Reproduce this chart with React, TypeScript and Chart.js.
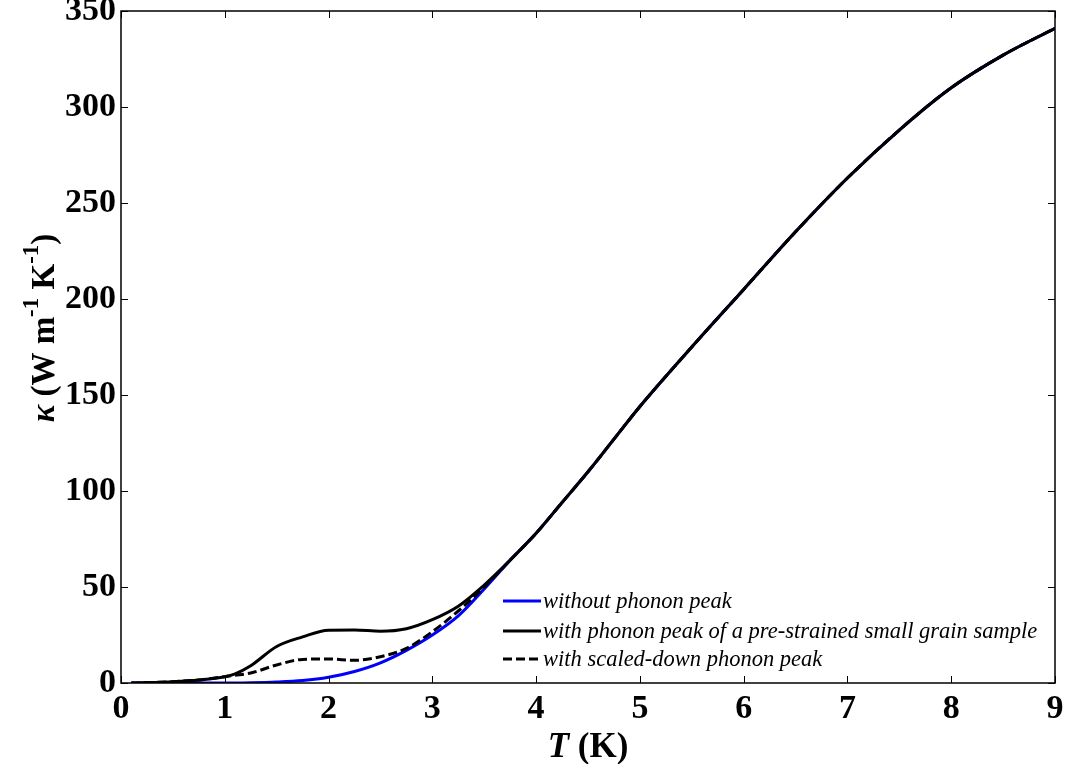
import React, { useEffect, useRef } from 'react';
import { Chart, registerables } from 'chart.js';

Chart.register(...registerables);

// Temperature grid (K)
const temperatureK = [0.1, 0.25, 0.5, 0.75, 1, 1.1, 1.25, 1.5, 1.75, 2, 2.25, 2.5, 2.75, 3, 3.25, 3.5, 3.75, 4, 4.25, 4.5, 4.75, 5, 5.5, 6, 6.5, 7, 7.5, 8, 8.5, 9];
// kappa without phonon peak
const kappaWithout = [0, 0, 0, 0, 0, 0, 0.1, 0.5, 1.3, 3, 6, 10.5, 17, 25, 35, 49, 64, 78, 94, 110, 127, 144, 175, 205, 235, 263, 288, 310, 327, 341];
// kappa with phonon peak of a pre-strained small grain sample
const kappaPrestrained = [0, 0.2, 0.7, 1.6, 3.3, 4.8, 9, 19, 24, 27.5, 27.6, 27, 28.3, 33, 40, 51, 64, 78, 94, 110, 127, 144, 175, 205, 235, 263, 288, 310, 327, 341];
// kappa with scaled-down phonon peak
const kappaScaled = [0, 0.2, 0.7, 1.6, 3.3, 4, 5.2, 9.4, 12.3, 12.5, 11.8, 13.7, 18, 26.7, 37.5, 50, 64, 78, 94, 110, 127, 144, 175, 205, 235, 263, 288, 310, 327, 341];

const xTickValues = [0, 1, 2, 3, 4, 5, 6, 7, 8, 9];
const yTickValues = [0, 50, 100, 150, 200, 250, 300, 350];

const legendLabels = [
  'without phonon peak',
  'with phonon peak of a pre-strained small grain sample',
  'with scaled-down phonon peak',
];

const SERIF = "'Liberation Serif', 'Times New Roman', 'DejaVu Serif', serif";

const toPoints = (ys: number[]) => temperatureK.map((t, i) => ({ x: t, y: ys[i] }));

const decorPlugin = {
  id: 'decor',
  afterDraw(chart: any) {
    const ctx = chart.ctx as CanvasRenderingContext2D;
    const { left, right, top, bottom } = chart.chartArea;
    const xs = chart.scales.x;
    const ys = chart.scales.y;
    ctx.save();
    // frame
    ctx.strokeStyle = '#000';
    ctx.lineWidth = 1.5;
    ctx.strokeRect(left, top, right - left, bottom - top);
    // inward ticks
    ctx.lineWidth = 1;
    const tl = 7;
    xTickValues.forEach((v) => {
      const px = Math.round(xs.getPixelForValue(v)) + 0.5;
      ctx.beginPath();
      ctx.moveTo(px, bottom);
      ctx.lineTo(px, bottom - tl);
      ctx.moveTo(px, top);
      ctx.lineTo(px, top + tl);
      ctx.stroke();
    });
    yTickValues.forEach((v) => {
      const py = Math.round(ys.getPixelForValue(v)) + 0.5;
      ctx.beginPath();
      ctx.moveTo(left, py);
      ctx.lineTo(left + tl, py);
      ctx.moveTo(right, py);
      ctx.lineTo(right - tl, py);
      ctx.stroke();
    });

    // legend
    const legX = 503;
    const legYs = [601, 631, 659];
    const styles = [
      { color: '#0000ff', dash: [] as number[] },
      { color: '#000000', dash: [] as number[] },
      { color: '#000000', dash: [9, 4] },
    ];
    ctx.font = `italic 22.5px ${SERIF}`;
    ctx.textBaseline = 'middle';
    ctx.textAlign = 'left';
    legendLabels.forEach((lab, i) => {
      ctx.strokeStyle = styles[i].color;
      ctx.lineWidth = 3;
      ctx.setLineDash(styles[i].dash);
      ctx.beginPath();
      ctx.moveTo(legX, legYs[i]);
      ctx.lineTo(legX + 38, legYs[i]);
      ctx.stroke();
      ctx.setLineDash([]);
      ctx.fillStyle = '#000';
      ctx.fillText(lab, legX + 40, legYs[i] + 1);
    });

    // x axis title: T (K)
    ctx.fillStyle = '#000';
    ctx.textBaseline = 'alphabetic';
    const xt1 = 'T';
    const xt2 = ' (K)';
    ctx.font = `italic bold 35px ${SERIF}`;
    const w1 = ctx.measureText(xt1).width;
    ctx.font = `bold 35px ${SERIF}`;
    const w2 = ctx.measureText(xt2).width;
    const cx = (left + right) / 2;
    const sx = cx - (w1 + w2) / 2;
    ctx.font = `italic bold 35px ${SERIF}`;
    ctx.fillText(xt1, sx, 757);
    ctx.font = `bold 35px ${SERIF}`;
    ctx.fillText(xt2, sx + w1, 757);

    // y axis title: κ (W m^-1 K^-1)
    const parts: { t: string; f: string; dy: number }[] = [
      { t: 'κ', f: `italic bold 33px ${SERIF}`, dy: 0 },
      { t: ' (W m', f: `bold 33px ${SERIF}`, dy: 0 },
      { t: '-1', f: `bold 23px ${SERIF}`, dy: -16 },
      { t: ' K', f: `bold 33px ${SERIF}`, dy: 0 },
      { t: '-1', f: `bold 23px ${SERIF}`, dy: -16 },
      { t: ')', f: `bold 33px ${SERIF}`, dy: 0 },
    ];
    let total = 0;
    const widths = parts.map((p) => {
      ctx.font = p.f;
      const w = ctx.measureText(p.t).width;
      total += w;
      return w;
    });
    ctx.translate(54, 328);
    ctx.rotate(-Math.PI / 2);
    let px = -total / 2;
    parts.forEach((p, i) => {
      ctx.font = p.f;
      ctx.fillText(p.t, px, p.dy);
      px += widths[i];
    });
    ctx.restore();
  },
};

export default function App() {
  const canvasRef = useRef<HTMLCanvasElement | null>(null);

  useEffect(() => {
    document.body.style.margin = '0';
    const canvas = canvasRef.current;
    if (!canvas) return;
    const chart = new Chart(canvas, {
      type: 'line',
      data: {
        datasets: [
          {
            label: legendLabels[0],
            data: toPoints(kappaWithout),
            borderColor: '#0000ff',
            borderWidth: 3,
            pointRadius: 0,
            cubicInterpolationMode: 'monotone',
            order: 3,
          },
          {
            label: legendLabels[1],
            data: toPoints(kappaPrestrained),
            borderColor: '#000000',
            borderWidth: 3,
            pointRadius: 0,
            cubicInterpolationMode: 'monotone',
            order: 2,
          },
          {
            label: legendLabels[2],
            data: toPoints(kappaScaled),
            borderColor: '#000000',
            borderWidth: 3,
            borderDash: [9, 4],
            pointRadius: 0,
            cubicInterpolationMode: 'monotone',
            order: 1,
          },
        ],
      },
      options: {
        animation: false,
        responsive: true,
        maintainAspectRatio: false,
        layout: { padding: { top: 11, right: 11, left: 0, bottom: 0 } },
        plugins: {
          legend: { display: false },
          tooltip: { enabled: false },
        },
        scales: {
          x: {
            type: 'linear',
            min: 0,
            max: 9,
            grid: { display: false, drawTicks: false },
            border: { display: false },
            ticks: {
              stepSize: 1,
              color: '#000',
              padding: 6,
              font: { family: SERIF, size: 34, weight: 'bold' },
              maxRotation: 0,
            },
            afterFit: (scale: any) => {
              scale.height = 81;
              scale.paddingLeft = 0;
              scale.paddingRight = 0;
            },
          },
          y: {
            type: 'linear',
            min: 0,
            max: 350,
            grid: { display: false, drawTicks: false },
            border: { display: false },
            ticks: {
              stepSize: 50,
              color: '#000',
              padding: 5,
              font: { family: SERIF, size: 34, weight: 'bold' },
            },
            afterFit: (scale: any) => {
              scale.width = 121;
              scale.paddingTop = 0;
              scale.paddingBottom = 0;
            },
          },
        },
      },
      plugins: [decorPlugin],
    });
    return () => chart.destroy();
  }, []);

  return (
    <div style={{ position: 'absolute', left: 0, top: 0, width: 1066, height: 764, background: '#fff' }}>
      <canvas ref={canvasRef} />
    </div>
  );
}
